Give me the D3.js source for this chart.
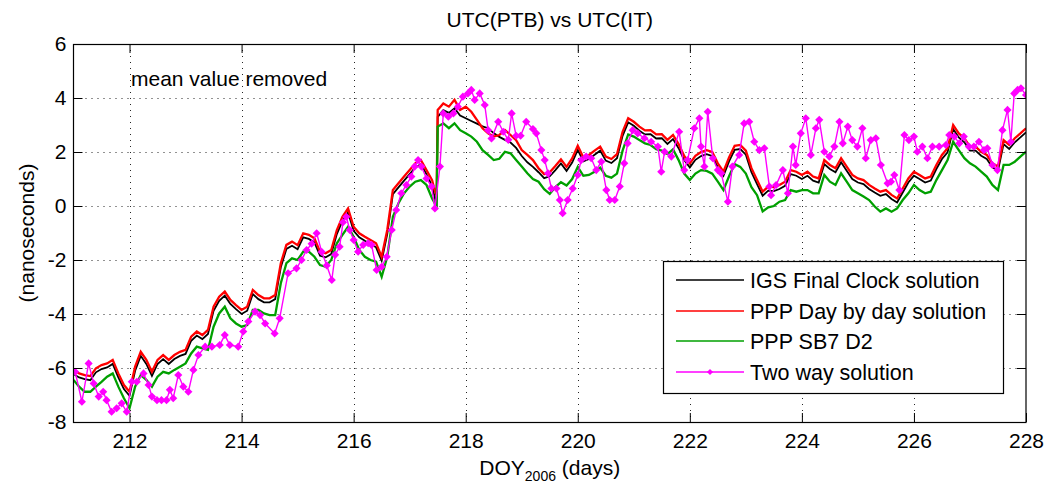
<!DOCTYPE html>
<html><head><meta charset="utf-8">
<script src="https://cdn.jsdelivr.net/npm/d3@7"></script>
<style>
html,body{margin:0;padding:0;background:#fff;}
svg{display:block;font-family:"Liberation Sans",Arial,Helvetica,sans-serif;}
</style></head><body>
<svg id="chart" width="1045" height="487"></svg>
<script>
// ---- data ----
const days = [
211.0,211.1,211.2,211.3,211.4,211.5,211.6,211.7,211.8,211.9,
212.0,212.1,212.2,212.3,212.4,212.5,212.6,212.7,212.8,212.9,
213.0,213.1,213.2,213.3,213.4,213.5,213.6,213.7,213.8,213.9,
214.0,214.1,214.2,214.3,214.4,214.5,214.6,214.7,214.8,214.9,
215.0,215.1,215.2,215.3,215.4,215.5,215.6,215.7,215.8,215.9,
216.0,216.1,216.2,216.3,216.4,216.5,216.6,216.7,216.8,216.9,
217.0,217.1,217.2,217.3,217.4,217.45,217.48,217.5,217.6,217.7,217.8,217.9,
218.0,218.1,218.2,218.3,218.4,218.5,218.6,218.7,218.8,218.9,
219.0,219.1,219.2,219.3,219.4,219.5,219.6,219.7,219.8,219.9,
220.0,220.1,220.2,220.3,220.4,220.5,220.6,220.7,220.8,220.9,
221.0,221.1,221.2,221.3,221.4,221.5,221.6,221.7,221.8,221.9,
222.0,222.1,222.2,222.3,222.4,222.5,222.6,222.7,222.8,222.9,
223.0,223.1,223.2,223.3,223.4,223.5,223.6,223.7,223.8,223.9,
224.0,224.1,224.2,224.3,224.4,224.5,224.6,224.7,224.8,224.9,
225.0,225.1,225.2,225.3,225.4,225.5,225.6,225.7,225.8,225.9,
226.0,226.1,226.2,226.3,226.4,226.5,226.6,226.7,226.8,226.9,
227.0,227.1,227.2,227.3,227.4,227.5,227.6,227.7,227.8,227.9,
228.0];

const igsFinal = [
-6.22,-6.35,-6.41,-6.45,-6.16,-6.04,-5.98,-5.85,-6.35,-6.78,
-7.03,-6.10,-5.55,-5.85,-6.29,-5.85,-5.67,-5.85,-5.67,-5.55,
-5.48,-4.99,-4.80,-4.93,-4.74,-3.88,-3.51,-3.32,-3.63,-3.82,
-4.00,-3.88,-3.26,-3.45,-3.57,-3.57,-3.45,-2.27,-1.59,-1.47,
-1.60,-1.16,-1.22,-1.35,-1.84,-1.90,-1.78,-1.04,-0.55,-0.24,
-0.92,-1.16,-1.29,-1.41,-1.53,-2.03,-1.04,0.44,0.69,0.94,
1.18,1.43,1.55,1.18,0.75,0.30,-0.08,3.30,3.55,3.45,3.62,3.35,
3.25,3.15,3.05,2.95,2.88,2.70,2.56,2.45,2.35,2.15,
1.85,1.62,1.45,1.25,1.03,1.10,1.33,1.58,1.30,1.61,
2.08,1.65,1.74,1.90,2.05,1.68,1.59,1.77,2.60,3.10,
2.97,2.79,2.65,2.66,2.50,2.51,2.30,2.48,2.14,1.70,
1.43,1.71,1.85,1.92,1.85,1.43,1.12,1.65,2.08,2.11,
1.90,1.25,0.81,0.38,0.57,0.55,0.63,0.75,1.18,1.12,
1.00,1.12,0.94,0.87,1.55,1.37,1.25,1.62,1.31,1.00,
0.87,0.81,0.63,0.50,0.38,0.44,0.26,0.13,0.50,0.87,
1.12,1.00,0.87,0.94,1.37,1.74,1.99,2.85,2.54,2.36,
2.05,2.05,1.86,1.74,1.43,1.31,2.29,2.11,2.36,2.54,
2.73];

const pppDayByDay = [
-6.07,-6.20,-6.26,-6.30,-6.01,-5.89,-5.83,-5.70,-6.20,-6.63,
-6.88,-5.95,-5.40,-5.70,-6.14,-5.70,-5.52,-5.70,-5.52,-5.40,
-5.33,-4.84,-4.65,-4.78,-4.59,-3.73,-3.36,-3.17,-3.48,-3.67,
-3.85,-3.73,-3.11,-3.30,-3.42,-3.42,-3.30,-2.12,-1.44,-1.32,
-1.45,-1.01,-1.07,-1.20,-1.69,-1.75,-1.63,-0.89,-0.40,-0.09,
-0.77,-1.01,-1.14,-1.26,-1.38,-1.88,-0.89,0.59,0.84,1.09,
1.33,1.58,1.70,1.33,0.96,0.55,0.40,3.56,3.80,3.68,3.93,3.56,
3.68,3.49,3.19,2.88,2.69,2.57,2.63,2.81,2.63,2.44,
2.07,1.89,1.70,1.40,1.18,1.25,1.48,1.73,1.45,1.76,
2.23,1.80,1.89,2.05,2.20,1.83,1.74,1.92,2.75,3.25,
3.12,2.94,2.80,2.81,2.65,2.66,2.45,2.63,2.29,1.85,
1.58,1.86,2.00,2.07,2.00,1.58,1.27,1.80,2.23,2.26,
2.05,1.40,0.96,0.53,0.72,0.70,0.78,0.90,1.33,1.27,
1.15,1.27,1.09,1.02,1.70,1.52,1.40,1.77,1.46,1.15,
1.02,0.96,0.78,0.65,0.53,0.59,0.41,0.28,0.65,1.02,
1.27,1.15,1.02,1.09,1.52,1.89,2.14,3.00,2.69,2.51,
2.20,2.20,2.01,1.89,1.58,1.46,2.44,2.26,2.51,2.69,
2.88];

const pppSb7D2 = [
-6.44,-6.69,-6.88,-6.88,-6.69,-6.51,-6.32,-6.20,-6.69,-7.12,
-7.49,-6.69,-6.26,-6.44,-6.69,-6.32,-6.14,-6.20,-6.07,-5.95,
-5.83,-5.46,-5.21,-5.27,-5.33,-4.47,-3.98,-3.73,-4.16,-4.35,
-4.47,-4.41,-3.85,-3.85,-3.98,-4.04,-4.04,-2.86,-2.12,-1.94,
-2.00,-1.69,-1.69,-1.88,-2.19,-2.25,-2.00,-1.38,-1.07,-0.77,
-1.14,-1.63,-1.88,-2.00,-2.06,-2.62,-1.88,-0.40,0.10,0.47,
0.72,0.90,0.96,0.78,0.28,0.10,0.00,2.94,3.06,2.88,3.06,2.81,
2.69,2.57,2.38,2.07,1.89,1.70,1.75,2.01,1.95,1.70,
1.46,1.21,1.00,0.90,0.62,0.45,0.70,0.88,0.76,1.00,
1.45,1.12,1.15,1.27,1.42,1.12,1.05,1.20,2.05,2.65,
2.57,2.44,2.32,2.26,2.10,2.05,1.92,2.10,1.70,1.20,
0.96,1.20,1.33,1.30,1.20,0.90,0.59,1.10,1.55,1.45,
1.20,0.70,0.40,-0.20,-0.05,0.00,0.16,0.22,0.59,0.53,
0.59,0.59,0.47,0.47,1.15,0.90,0.78,1.21,0.90,0.59,
0.47,0.35,0.22,-0.02,-0.21,-0.09,-0.21,-0.09,0.22,0.47,
0.78,0.59,0.47,0.53,0.96,1.33,1.70,2.38,2.07,1.77,
1.58,1.46,1.27,1.09,0.78,0.59,1.52,1.52,1.64,1.83,
2.01];

const twoWayDays = [
211.03,211.15,211.27,211.36,211.45,211.53,211.59,211.68,211.77,211.86,211.95,
212.04,212.13,212.25,212.34,212.40,212.49,212.57,212.66,212.72,212.78,212.87,212.96,
213.05,213.14,213.23,213.35,213.47,213.61,213.70,213.79,213.94,
214.03,214.12,214.24,214.33,214.42,214.59,214.68,214.83,214.98,
215.07,215.16,215.25,215.34,215.43,215.52,215.61,215.67,215.75,215.81,215.87,215.93,
216.00,216.08,216.17,216.26,216.32,216.41,216.50,216.59,216.68,216.76,216.85,216.94,
217.03,217.09,217.15,217.21,217.30,217.39,217.45,217.54,217.60,217.69,217.78,217.86,217.95,
218.04,218.10,218.16,218.25,218.34,218.40,218.46,218.58,218.67,218.76,218.82,218.90,218.98,
219.08,219.20,219.26,219.35,219.41,219.47,219.53,219.62,219.68,219.73,219.82,219.91,
220.00,220.06,220.15,220.24,220.33,220.42,220.51,220.57,220.66,220.75,220.83,220.89,220.98,
221.07,221.19,221.31,221.43,221.49,221.55,221.67,221.81,221.90,221.96,
222.08,222.17,222.20,222.26,222.32,222.41,222.50,222.56,222.68,222.76,222.88,222.97,
223.06,223.15,223.24,223.33,223.42,223.45,223.54,223.66,223.75,223.84,223.89,223.98,
224.07,224.16,224.25,224.31,224.40,224.49,224.58,224.67,224.73,224.82,224.90,224.99,
225.08,225.14,225.23,225.32,225.41,225.53,225.59,225.65,225.74,225.83,225.91,
226.00,226.06,226.15,226.24,226.33,226.45,226.57,226.63,226.72,226.81,226.89,226.98,
227.07,227.16,227.25,227.31,227.40,227.49,227.58,227.67,227.73,227.79,227.85,227.91,
228.00];

const twoWayVals = [
-6.14,-7.25,-5.83,-6.57,-7.06,-6.88,-7.19,-7.62,-7.49,-7.31,-7.62,
-6.51,-6.51,-6.20,-6.63,-7.06,-7.19,-7.19,-7.19,-6.81,-7.12,-6.26,-6.69,
-6.88,-6.07,-5.52,-5.21,-5.21,-5.15,-4.78,-5.15,-5.21,
-4.65,-4.28,-3.91,-4.04,-4.35,-4.72,-4.16,-2.49,-2.31,
-2.00,-1.63,-1.40,-1.01,-1.70,-2.20,-2.74,-1.81,-1.51,-0.60,-0.40,-0.89,
-1.26,-1.69,-1.44,-1.38,-1.44,-2.37,-2.25,-1.88,-0.89,-0.15,0.47,0.78,
1.09,1.46,1.70,1.46,1.02,0.72,-0.09,1.46,3.43,3.31,3.43,3.68,4.05,
4.17,4.30,3.93,4.17,3.74,2.81,2.50,3.12,2.75,2.45,3.43,2.60,2.60,
3.12,2.85,2.69,2.07,1.70,1.21,0.65,0.65,0.22,-0.27,0.22,0.65,
1.15,1.70,1.83,1.77,1.33,1.64,0.59,0.22,0.22,0.72,1.58,2.32,2.81,
2.69,2.51,2.38,2.20,1.27,2.01,1.83,2.75,1.33,1.70,
2.88,3.25,2.20,1.46,3.49,1.77,1.33,1.21,0.16,1.46,1.89,3.06,
3.12,2.38,2.07,2.14,0.72,0.40,0.78,1.33,0.47,2.20,1.52,2.69,
3.25,1.89,2.88,3.19,2.01,1.83,2.20,3.12,2.32,2.94,2.44,2.20,
2.88,1.77,2.44,2.51,1.52,0.84,0.90,1.15,0.59,2.63,2.44,
2.57,2.01,2.20,1.77,2.20,2.20,2.26,2.63,2.57,2.32,2.57,2.20,
2.20,2.38,2.07,2.14,1.52,1.33,2.81,3.56,2.38,4.17,4.30,4.36,
4.11];

const xTicks = [212,214,216,218,220,222,224,226,228];
const yTicks = [-8,-6,-4,-2,0,2,4,6];
const seriesNames = ["IGS Final Clock solution","PPP Day by day solution","PPP SB7 D2","Two way solution"];
const seriesColors = ["#000000","#ff0000","#00a000","#ff00ff"];

// ---- layout ----
const m = {l:73.5, r:1026, t:44, b:422};
const FS = 21;
const x = d3.scaleLinear().domain([211,228]).range([m.l,m.r]);
const y = d3.scaleLinear().domain([-8,6]).range([m.b,m.t]);
const svg = d3.select('#chart');

svg.append('rect').attr('width',1045).attr('height',487).attr('fill','#fff');

// grid
const grid = svg.append('g').attr('stroke','#000').attr('stroke-width',1)
  .attr('stroke-dasharray','1,5').attr('opacity',0.85);
grid.selectAll('.gv').data(xTicks.filter(t=>t>211 && t<228)).enter().append('line')
  .attr('x1',d=>Math.round(x(d))+0.5).attr('x2',d=>Math.round(x(d))+0.5)
  .attr('y1',m.t).attr('y2',m.b);
grid.selectAll('.gh').data(yTicks.filter(t=>t>-8 && t<6)).enter().append('line')
  .attr('y1',d=>Math.round(y(d))+0.5).attr('y2',d=>Math.round(y(d))+0.5)
  .attr('x1',m.l).attr('x2',m.r);

// data
svg.append('clipPath').attr('id','clip').append('rect')
  .attr('x',m.l).attr('y',m.t).attr('width',m.r-m.l).attr('height',m.b-m.t);
const plot = svg.append('g').attr('clip-path','url(#clip)');
const line = d3.line().x((d,i)=>x(days[i])).y(d=>y(d));
const widths = [1.8,2.3,2.3];
[igsFinal, pppDayByDay, pppSb7D2].forEach((s,k)=>{
  plot.append('path').datum(s).attr('d',line).attr('fill','none')
    .attr('stroke',seriesColors[k]).attr('stroke-width',widths[k]).attr('stroke-linejoin','miter');
});
const twLine = d3.line().x((d,i)=>x(twoWayDays[i])).y(d=>y(d));
plot.append('path').datum(twoWayVals).attr('d',twLine).attr('fill','none')
  .attr('stroke',seriesColors[3]).attr('stroke-width',1.4);
const sym = d3.symbol().type(d3.symbolDiamond2 || d3.symbolDiamond).size(42);
plot.selectAll('.mk').data(twoWayVals).enter().append('path')
  .attr('d',sym).attr('fill',seriesColors[3])
  .attr('transform',(d,i)=>`translate(${x(twoWayDays[i])},${y(d)})`);

// axes
const fmt = d=>String(d);
const styleAxis = g=>{ g.select('.domain').remove();
  g.selectAll('line').attr('stroke','#000');
  g.selectAll('text').attr('font-size',FS).attr('font-family','"Liberation Sans",Arial,sans-serif').attr('fill','#000'); };
svg.append('g').attr('transform',`translate(0,${m.b})`)
  .call(d3.axisBottom(x).tickValues(xTicks).tickSize(-9).tickPadding(11).tickFormat(fmt)).call(styleAxis);
svg.append('g').attr('transform',`translate(0,${m.t})`)
  .call(d3.axisTop(x).tickValues(xTicks).tickSize(-9).tickFormat('')).call(styleAxis);
svg.append('g').attr('transform',`translate(${m.l},0)`)
  .call(d3.axisLeft(y).tickValues(yTicks).tickSize(-9).tickPadding(7).tickFormat(fmt)).call(styleAxis);
svg.append('g').attr('transform',`translate(${m.r},0)`)
  .call(d3.axisRight(y).tickValues(yTicks).tickSize(-9).tickFormat('')).call(styleAxis);
svg.append('rect').attr('x',m.l).attr('y',m.t+0.5).attr('width',m.r-m.l).attr('height',m.b-m.t)
  .attr('fill','none').attr('stroke','#000').attr('stroke-width',1.2);

// texts
svg.append('text').attr('x',(m.l+m.r)/2).attr('y',27).attr('text-anchor','middle')
  .attr('font-size',FS).text('UTC(PTB) vs UTC(IT)');
svg.append('text').attr('x',131).attr('y',86).attr('font-size',FS).text('mean value removed');
svg.append('text').attr('transform',`translate(34,${(m.t+m.b)/2}) rotate(-90)`)
  .attr('text-anchor','middle').attr('font-size',FS).text('(nanoseconds)');
const xl = svg.append('text').attr('x',(m.l+m.r)/2).attr('y',475).attr('text-anchor','middle').attr('font-size',FS);
xl.append('tspan').text('DOY');
xl.append('tspan').attr('font-size',14).attr('dy',6).text('2006');
xl.append('tspan').attr('dy',-6).text('\u00a0(days)');

// legend
const lg = svg.append('g');
lg.append('rect').attr('x',663.5).attr('y',261.5).attr('width',340).attr('height',132)
  .attr('fill','#fff').attr('stroke','#000').attr('stroke-width',1.2);
const rowsY = [280,311,341,372];
seriesNames.forEach((n,k)=>{
  lg.append('line').attr('x1',676).attr('x2',744).attr('y1',rowsY[k]).attr('y2',rowsY[k])
    .attr('stroke',seriesColors[k]).attr('stroke-width',1.5);
  lg.append('text').attr('x',750).attr('y',rowsY[k]+7.5).attr('font-size',FS+0.5).text(n);
});
lg.append('path').attr('d',d3.symbol().type(d3.symbolDiamond2 || d3.symbolDiamond).size(24))
  .attr('fill',seriesColors[3]).attr('transform',`translate(710,${rowsY[3]})`);
</script>
</body></html>
